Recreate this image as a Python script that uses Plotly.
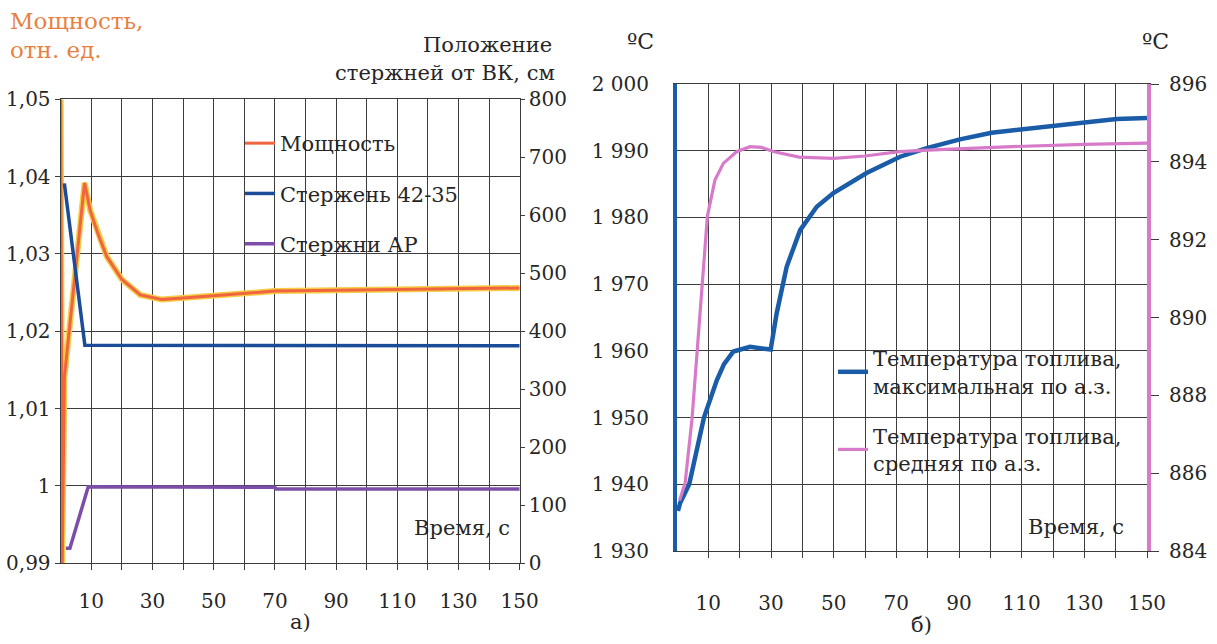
import plotly.graph_objects as go

# ---------------- data: chart a) ----------------
power_time = [0, 0.5, 1.2, 7.8, 9.6, 12, 15, 20, 26, 33, 40, 50, 60, 70, 90, 110, 130, 150]
power_value = [1.05, 0.99, 1.014, 1.0392, 1.0357, 1.0328, 1.0297, 1.0267, 1.0247, 1.0241,
               1.0243, 1.0246, 1.0249, 1.0252, 1.0253, 1.0254, 1.0255, 1.0256]

rod_time = [1.2, 7.9, 150]
rod_value = [655, 376, 375]

ar_time = [1.7, 3.0, 9.0, 70, 70.5, 150]
ar_value = [26, 26, 132, 131, 128, 128]

# ---------------- data: chart б) ----------------
tmax_time = [0.3, 1, 3.9, 6, 8.6, 12.7, 15, 18, 23.3, 29.9, 31.8, 35, 39.3, 44.6, 49.9,
             60.5, 71.2, 79.7, 90.3, 100.4, 110.5, 120.1, 130.2, 140.3, 150]
tmax_value = [1936.0, 1937.2, 1940.0, 1944.8, 1950.0, 1955.6, 1958.0, 1959.9, 1960.6, 1960.2,
              1965.6, 1972.6, 1978.1, 1981.6, 1983.65, 1986.65, 1989.1, 1990.4, 1991.7,
              1992.7, 1993.2, 1993.7, 1994.3, 1994.75, 1994.9]

tavg_time = [0.8, 2.6, 4.8, 6.4, 7.9, 9.7, 12.1, 14.8, 19, 23.3, 27, 31, 39, 50, 60, 71,
             80, 103, 130, 150]
tavg_value = [885.3, 885.75, 887.4, 889.15, 890.85, 892.6, 893.53, 893.96, 894.26, 894.39,
              894.37, 894.26, 894.12, 894.09, 894.15, 894.26, 894.3, 894.38, 894.45, 894.48]

# ---------------- tick labels ----------------
x_tickvals = list(range(10, 160, 10))
x_ticktext = ["10", "", "30", "", "50", "", "70", "", "90", "", "110", "", "130", "", "150"]

power_tickvals = [0.99, 1.00, 1.01, 1.02, 1.03, 1.04, 1.05]
power_ticktext = ["0,99", "1", "1,01", "1,02", "1,03", "1,04", "1,05"]

rod_tickvals = [0, 100, 200, 300, 400, 500, 600, 700, 800]
rod_ticktext = [str(v) for v in rod_tickvals]

tmax_tickvals = [1930, 1940, 1950, 1960, 1970, 1980, 1990, 2000]
tmax_ticktext = ["1 930", "1 940", "1 950", "1 960", "1 970", "1 980", "1 990", "2 000"]

tavg_tickvals = [884, 886, 888, 890, 892, 894, 896]
tavg_ticktext = [str(v) for v in tavg_tickvals]

# ---------------- styling ----------------
W, H = 1217, 644
FONT = "DejaVu Serif"
GRID = "#3c3c3c"
TXT = "#262626"
ORANGE = "#F0653F"
YELLOW = "#F5CC45"
DBLUE = "#1B4C97"
PURPLE = "#7D4DAA"
BLUE = "#1A5CA8"
PINK = "#D77AC9"


def px(x):
    return x / W


def py(y):
    return 1 - y / H


fig = go.Figure()

# chart a)
fig.add_trace(go.Scatter(x=power_time, y=power_value, mode="lines", xaxis="x", yaxis="y",
                         line=dict(color=YELLOW, width=6), showlegend=False, hoverinfo="skip"))
fig.add_trace(go.Scatter(x=power_time, y=power_value, mode="lines", xaxis="x", yaxis="y",
                         name="Мощность", legend="legend", legendgroup="p",
                         line=dict(color=ORANGE, width=3)))
fig.add_trace(go.Scatter(x=rod_time, y=rod_value, mode="lines", xaxis="x", yaxis="y2",
                         name="Стержень 42-35", legend="legend", legendgroup="r",
                         line=dict(color=DBLUE, width=3.5)))
fig.add_trace(go.Scatter(x=ar_time, y=ar_value, mode="lines", xaxis="x", yaxis="y2",
                         name="Стержни АР", legend="legend", legendgroup="a",
                         line=dict(color=PURPLE, width=3.5)))

# chart б)
fig.add_trace(go.Scatter(x=tmax_time, y=tmax_value, mode="lines", xaxis="x2", yaxis="y3",
                         name="Температура топлива,<br>максимальная по а.з.",
                         legend="legend2", legendgroup="m",
                         line=dict(color=BLUE, width=4.5)))
fig.add_trace(go.Scatter(x=tavg_time, y=tavg_value, mode="lines", xaxis="x2", yaxis="y4",
                         name="Температура топлива,<br>средняя по а.з.",
                         legend="legend2", legendgroup="s",
                         line=dict(color=PINK, width=3.2)))

tickfont = dict(family=FONT, size=20, color=TXT)

fig.update_layout(
    width=W, height=H, autosize=False,
    margin=dict(l=0, r=0, t=0, b=0, pad=0, autoexpand=False),
    paper_bgcolor="white", plot_bgcolor="white",
    font=dict(family=FONT, size=20, color=TXT),
    xaxis=dict(domain=[px(60.7), px(519.7)], anchor="y", range=[0, 150],
               tickmode="array", tickvals=x_tickvals, ticktext=x_ticktext,
               ticks="outside", ticklen=6, tickcolor=GRID, ticklabelstandoff=14,
               showgrid=True, gridcolor=GRID, gridwidth=1.2, automargin=False,
               showline=True, linecolor=GRID, linewidth=1.2, mirror=True,
               zeroline=False, tickfont=tickfont),
    yaxis=dict(domain=[py(563.3), py(99.3)], anchor="x", range=[0.99, 1.05],
               tickmode="array", tickvals=power_tickvals, ticktext=power_ticktext,
               ticks="outside", ticklen=5, tickcolor=GRID, automargin=False,
               showgrid=True, gridcolor=GRID, gridwidth=1.2,
               showline=True, linecolor=GRID, linewidth=1.2,
               zeroline=False, tickfont=tickfont),
    yaxis2=dict(overlaying="y", side="right", anchor="x", range=[0, 800],
                tickmode="array", tickvals=rod_tickvals, ticktext=rod_ticktext,
                ticks="outside", ticklen=4, tickcolor=GRID, automargin=False,
                showgrid=False, showline=True, linecolor=GRID, linewidth=1.2,
                zeroline=False, tickfont=tickfont),
    xaxis2=dict(domain=[px(677), px(1147)], anchor="y3", range=[0, 150],
                tickmode="array", tickvals=x_tickvals, ticktext=x_ticktext,
                ticks="outside", ticklen=6, tickcolor=GRID, ticklabelstandoff=28,
                showgrid=True, gridcolor=GRID, gridwidth=1.2, automargin=False,
                showline=True, linecolor=GRID, linewidth=1.2, mirror=True,
                zeroline=False, tickfont=tickfont),
    yaxis3=dict(domain=[py(551), py(84)], anchor="x2", range=[1930, 2000],
                tickmode="array", tickvals=tmax_tickvals, ticktext=tmax_ticktext,
                ticks="", ticklabelstandoff=20, automargin=False,
                showgrid=True, gridcolor=GRID, gridwidth=1.2,
                showline=True, linecolor=BLUE, linewidth=4,
                zeroline=False, tickfont=tickfont),
    yaxis4=dict(overlaying="y3", side="right", anchor="x2", range=[884, 896],
                tickmode="array", tickvals=tavg_tickvals, ticktext=tavg_ticktext,
                ticks="outside", ticklen=8, tickcolor=GRID, ticklabelstandoff=6,
                automargin=False,
                showgrid=False, showline=True, linecolor=PINK, linewidth=4,
                zeroline=False, tickfont=tickfont),
    legend=dict(x=px(240), y=py(123), xanchor="left", yanchor="top",
                bgcolor="rgba(0,0,0,0)", font=dict(family=FONT, size=21, color=TXT),
                tracegroupgap=20, itemwidth=30),
    legend2=dict(x=px(833), y=py(338), xanchor="left", yanchor="top",
                 bgcolor="rgba(0,0,0,0)", font=dict(family=FONT, size=21, color=TXT),
                 tracegroupgap=20, itemwidth=30),
    showlegend=True,
)

ann = [
    dict(text="Мощность,", x=px(8), y=py(21), xanchor="left", size=23, color="#E8803F"),
    dict(text="отн. ед.", x=px(8), y=py(50), xanchor="left", size=23, color="#E8803F"),
    dict(text="Положение", x=px(554), y=py(45), xanchor="right", size=21, color=TXT),
    dict(text="стержней от ВК, см", x=px(557), y=py(73), xanchor="right", size=21, color=TXT),
    dict(text="ºC", x=px(640), y=py(42), xanchor="center", size=22, color=TXT),
    dict(text="ºC", x=px(1155), y=py(42), xanchor="center", size=22, color=TXT),
    dict(text="Время, с", x=px(512), y=py(528), xanchor="right", size=21, color=TXT),
    dict(text="Время, с", x=px(1126), y=py(527), xanchor="right", size=21, color=TXT),
    dict(text="а)", x=px(300), y=py(622), xanchor="center", size=21, color=TXT),
    dict(text="б)", x=px(922), y=py(625), xanchor="center", size=21, color=TXT),
]
for a in ann:
    fig.add_annotation(text=a["text"], x=a["x"], y=a["y"], xref="paper", yref="paper",
                       xanchor=a["xanchor"], yanchor="middle", showarrow=False,
                       font=dict(family=FONT, size=a["size"], color=a["color"]))

fig.write_html("out.html")
